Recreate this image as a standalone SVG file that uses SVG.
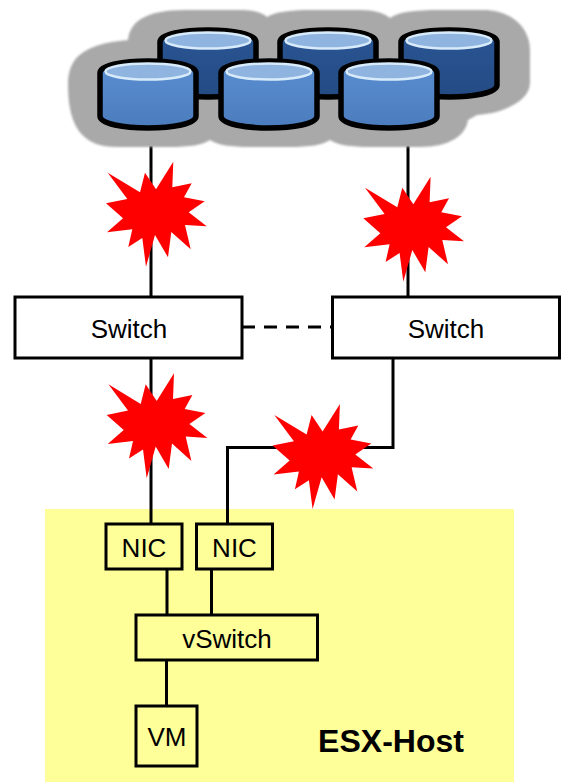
<svg xmlns="http://www.w3.org/2000/svg" width="566" height="784" viewBox="0 0 566 784">
<style>
.box{stroke:#000;stroke-width:3}
.wire{fill:none;stroke:#000;stroke-width:3}
.lbl{font-family:"Liberation Sans",Arial,sans-serif;font-size:26px;fill:#000;text-anchor:middle}
.star{fill:#f00}
.body{stroke:#000;stroke-width:5.500;stroke-linejoin:round}
.rim{stroke:#d8ebfa;stroke-width:2.500}
</style>
<defs>
<linearGradient id="gf" x1="0" y1="0" x2="0" y2="1"><stop offset="0" stop-color="#5b8fd2"/><stop offset="1" stop-color="#4b7cbd"/></linearGradient>
<linearGradient id="gb" x1="0" y1="0" x2="0" y2="1"><stop offset="0" stop-color="#2a5694"/><stop offset="1" stop-color="#244b84"/></linearGradient>
<filter id="soft" x="-5%" y="-5%" width="110%" height="110%"><feGaussianBlur stdDeviation="1.200"/></filter>
<symbol id="cf" overflow="visible"><path class="body" fill="url(#gf)" d="M100,73 C100,57 196,57 196,73 L196,116 C196,132 100,132 100,116 Z"/><ellipse class="rim" fill="#8fb4e0" cx="148" cy="71.500" rx="42.500" ry="8"/></symbol>
<symbol id="cb" overflow="visible"><path class="body" fill="url(#gb)" d="M100,73 C100,57 196,57 196,73 L196,116 C196,132 100,132 100,116 Z"/><ellipse class="rim" fill="#8fb4e0" cx="148" cy="71.500" rx="42.500" ry="8"/></symbol>
<polygon id="burst" class="star" points="107.700,172.700 140,192.300 145,172.700 156,189.300 173.300,161.700 172.300,187.300 191.700,183.300 184,197.300 204.700,201.300 188.700,212.300 206.700,226.300 185,225 190.700,249.300 171.300,232 168,257.300 155,235 146,266.700 142.300,238 128.300,247 132.300,229.300 107,232.300 123,218.300 106,203.300 127.300,199"/>
</defs>
<rect id="host-bg" x="45" y="509" width="469" height="273" fill="#ffff99"/>
<g id="connectors">
<path class="wire" d="M151,146V297M408,146V297M151,358V524M393,358V447.500H227.500V524M167,569V615M211.500,569V615M166.500,660V706"/>
<path class="wire" stroke-dasharray="13 9" d="M242,327H332"/>
</g>
<g id="storage">
<path filter="url(#soft)" fill="#a9a9a9" d="M68,85 C68,60 80,44 128,40 C130,22 145,10 185,10 L240,10 C255,10 262,13 267,17 C275,12 290,10 310,10 L360,10 C375,10 384,13 390,18 C398,12 415,10 440,10 L487,10 C515,12 530,30 530,50 L530,83 C530,100 505,113 477,115 L468,120 C466,135 450,147 420,147 L370,147 C350,147 338,145 330,140 C322,145 310,147 290,147 L250,147 C230,147 218,145 210,140 C202,145 190,147 170,147 L117,147 C85,147 68,130 68,85 Z"/>
<use href="#cb" x="60" y="-31"/>
<use href="#cb" x="180" y="-31"/>
<use href="#cb" x="301" y="-31"/>
<use href="#cf" x="0" y="0"/>
<use href="#cf" x="121" y="0"/>
<use href="#cf" x="241" y="0"/>
</g>
<g id="switch-1"><rect class="box" x="15" y="297" width="227" height="61" fill="#fff"/><text class="lbl" x="129" y="338">Switch</text></g>
<g id="switch-2"><rect class="box" x="332.500" y="297" width="227" height="61" fill="#fff"/><text class="lbl" x="446" y="338">Switch</text></g>
<g id="nic-1"><rect class="box" x="106" y="524" width="76" height="45" fill="#ffff99"/><text class="lbl" x="144" y="557">NIC</text></g>
<g id="nic-2"><rect class="box" x="196.500" y="524" width="76" height="45" fill="#ffff99"/><text class="lbl" x="234.500" y="557">NIC</text></g>
<g id="vswitch"><rect class="box" x="136" y="615" width="181.500" height="45" fill="#ffff99"/><text class="lbl" x="227" y="648">vSwitch</text></g>
<g id="vm"><rect class="box" x="136" y="706" width="61" height="60" fill="#ffff99"/><text class="lbl" x="167" y="746">VM</text></g>
<g id="esx-host"><text x="391" y="752" text-anchor="middle" font-family="'Liberation Sans',Arial,sans-serif" font-size="32" font-weight="700" fill="#000">ESX-Host</text></g>
<g id="failures">
<use href="#burst"/>
<use href="#burst" x="257.300" y="15"/>
<use href="#burst" x="0.700" y="211.600"/>
<use href="#burst" x="166.600" y="242.300"/>
</g>
</svg>
